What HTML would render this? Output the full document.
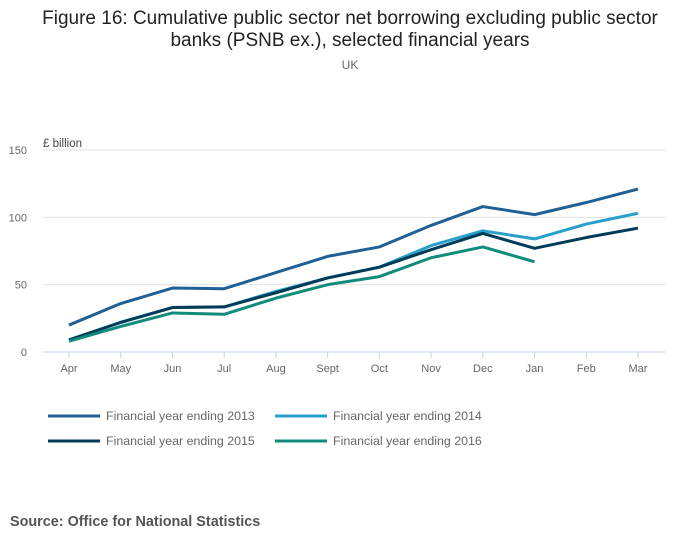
<!DOCTYPE html>
<html><head><meta charset="utf-8"><style>
body{margin:0;background:#fff;font-family:"Liberation Sans",sans-serif;}
svg{display:block}
</style></head><body>
<svg id="c" width="700" height="549">
<text x="350" y="24" text-anchor="middle" font-size="19" fill="#222">Figure 16: Cumulative public sector net borrowing excluding public sector</text>
<text x="350" y="46" text-anchor="middle" font-size="19" fill="#222">banks (PSNB ex.), selected financial years</text>
<text x="350" y="69" text-anchor="middle" font-size="12" fill="#666">UK</text>
<text x="43" y="147" font-size="11.5" fill="#444">£ billion</text>
<g id="grid"></g><g id="lines"></g><g id="legend"></g>
<text x="10" y="526" font-size="14.4" font-weight="bold" fill="#555">Source: Office for National Statistics</text>
</svg>
<script>
const categories=["Apr","May","Jun","Jul","Aug","Sept","Oct","Nov","Dec","Jan","Feb","Mar"];
const yTicks=[0,50,100,150];
const seriesNames=["Financial year ending 2013","Financial year ending 2014","Financial year ending 2015","Financial year ending 2016"];
const fye2013=[20,36,47.5,47,59,71,78,94,108,102,111,121];
const fye2014=[9,22,33,33.5,45,55,63,79,90,84,95,103];
const fye2015=[9,22,33,33.5,44,55,63,76,88,77,85,92];
const fye2016=[8,19,29,28,40,50,56,70,78,67];
const colors=["#206095","#27a0cc","#003c57","#118c7b"];
const NS="http://www.w3.org/2000/svg";
const x0=69,x1=638,yZero=352,yTop=150,left=43,right=665;
const xs=i=>x0+i*(x1-x0)/(categories.length-1);
const ys=v=>yZero-v*(yZero-yTop)/150;
function mk(t,a,p){const e=document.createElementNS(NS,t);for(const k in a)e.setAttribute(k,a[k]);p.appendChild(e);return e;}
const grid=document.getElementById('grid');
yTicks.forEach(v=>{
 const l=mk('line',{x1:left,x2:right,y1:ys(v),y2:ys(v),stroke:v===0?'#c5d3e6':'#e3e3e3','stroke-width':1},grid);
 
 
 const t=mk('text',{x:27,y:ys(v)+4,'text-anchor':'end','font-size':11,fill:'#666'},grid);t.textContent=v;
 
 
});
categories.forEach((c,i)=>{
 const tk=mk('line',{x1:xs(i),x2:xs(i),y1:yZero,y2:yZero+6,stroke:'#c5d3e6'},grid);
 
 
 const t=mk('text',{x:xs(i),y:yZero+20,'text-anchor':'middle','font-size':11,fill:'#666'},grid);t.textContent=c;
 
 
});
const lines=document.getElementById('lines');
[fye2013,fye2014,fye2015,fye2016].forEach((s,k)=>{
 const p=mk('polyline',{points:s.map((v,i)=>xs(i)+','+ys(v)).join(' '),fill:'none',stroke:colors[k],'stroke-width':3,'stroke-linejoin':'round'},lines);
 
 
});
const lg=document.getElementById('legend');
const lpos=[[48,416],[275,416],[48,441],[275,441]];
seriesNames.forEach((n,k)=>{
 const g=mk('g',{},lg);
 
 
 mk('line',{x1:lpos[k][0],x2:lpos[k][0]+52,y1:lpos[k][1],y2:lpos[k][1],stroke:colors[k],'stroke-width':3},g);
 const t=mk('text',{x:lpos[k][0]+58,y:lpos[k][1]+4,'font-size':12.4,fill:'#666'},g);t.textContent=n;
});
</script>
</body></html>
